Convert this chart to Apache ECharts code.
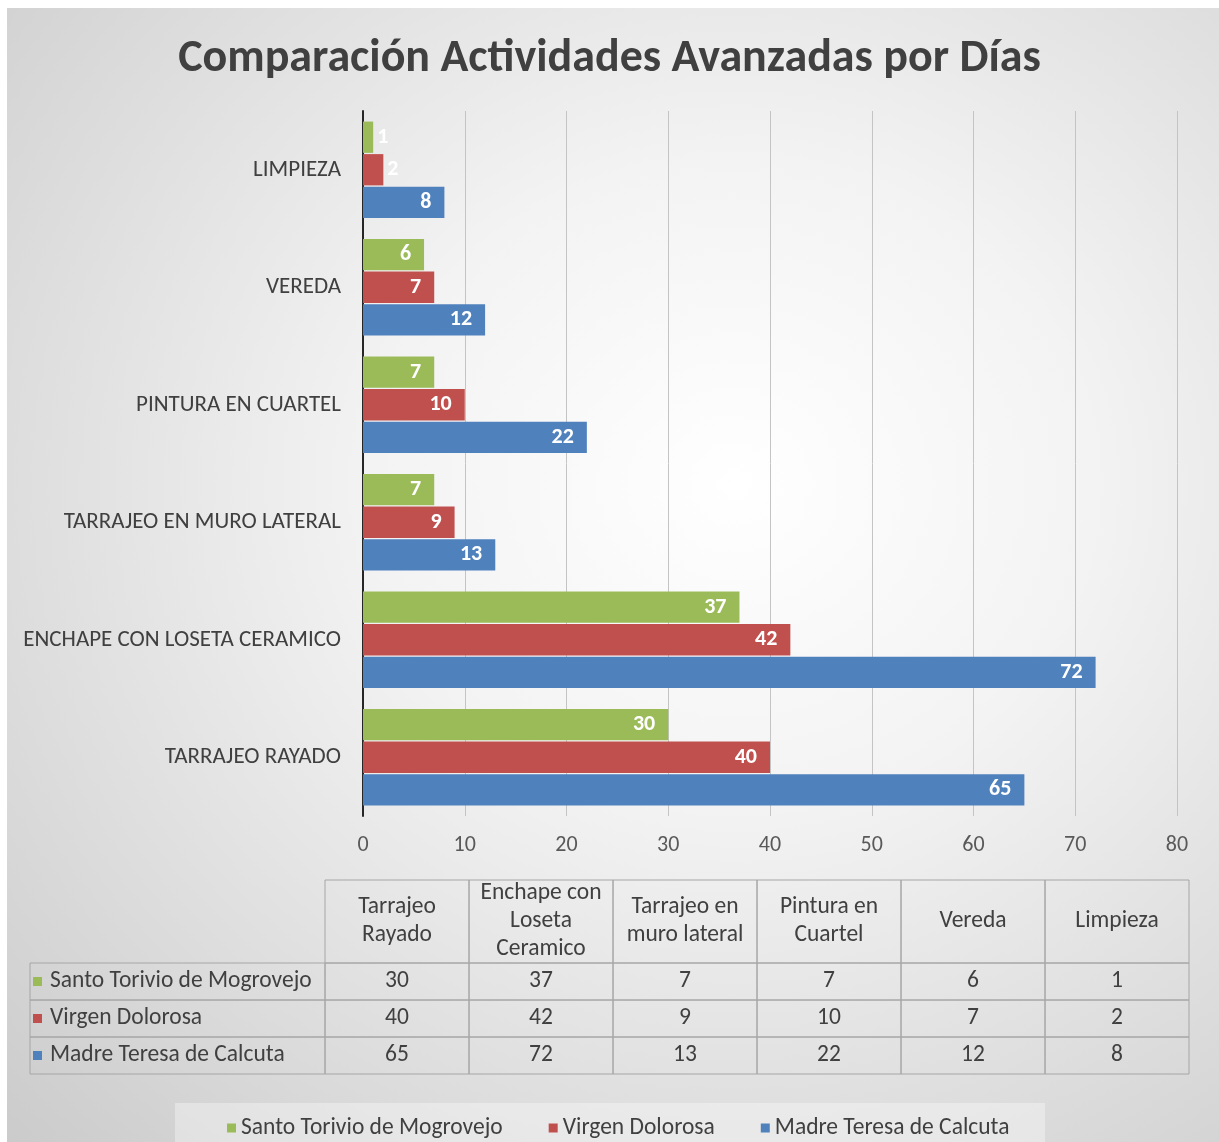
<!DOCTYPE html>
<html>
<head>
<meta charset="utf-8">
<script src="https://cdn.jsdelivr.net/npm/echarts@6/dist/echarts.min.js"></script>
<style>
  html, body { margin: 0; padding: 0; background: #fff; }
  #bg {
    position: absolute; left: 7px; top: 8px; right: 0; bottom: 0;
    background: radial-gradient(ellipse farthest-corner at 60% 42%, #ffffff 0%, #f3f3f3 35%, #cbcbcb 100%);
  }
  #chart { position: absolute; left: 0; top: 0; width: 1219px; height: 1142px; }
</style>
</head>
<body>
<div id="bg"></div>
<div id="chart"></div>
<script>
// datos (orden de la tabla de Excel)
const categories = ['TARRAJEO RAYADO', 'ENCHAPE CON LOSETA CERAMICO', 'TARRAJEO EN MURO LATERAL', 'PINTURA EN CUARTEL', 'VEREDA', 'LIMPIEZA'];
const tableHeaders = ['Tarrajeo\nRayado', 'Enchape con\nLoseta\nCeramico', 'Tarrajeo en\nmuro lateral', 'Pintura en\nCuartel', 'Vereda', 'Limpieza'];
const seriesNames = ['Santo Torivio de Mogrovejo', 'Virgen Dolorosa', 'Madre Teresa de Calcuta'];
const santo = [30, 37, 7, 7, 6, 1];
const virgen = [40, 42, 9, 10, 7, 2];
const madre = [65, 72, 13, 22, 12, 8];
const xTicks = [0, 10, 20, 30, 40, 50, 60, 70, 80];

const colors = ['#9BBB59', '#C0504D', '#4F81BD'];
const values = [santo, virgen, madre];
const FONT = "Carlito, 'Open Sans', sans-serif";
const textColor = '#404040';

const chart = echarts.init(document.getElementById('chart'));

// etiquetas pequeñas van fuera de la barra
function barData(arr) {
    return arr.map(v => v < 3 ? { value: v, label: { position: 'right', distance: 4 } } : v);
}

// tabla de datos debajo del grafico
const tLeft = 30, tHeadLeft = 325, colW = 144, tTop = 880, headH = 83, rowH = 37;
const lineColor = '#a6a6a6';
const cellFont = 23.5;
const graphic = [];
tableHeaders.forEach((h, i) => {
    const x = tHeadLeft + i * colW;
    graphic.push({ type: 'rect', shape: { x: x, y: tTop, width: colW, height: headH },
        style: { fill: 'none', stroke: lineColor, lineWidth: 1 } });
    graphic.push({ type: 'text', x: x + colW / 2, y: tTop + headH / 2,
        style: { text: h, align: 'center', verticalAlign: 'middle', fontSize: cellFont, fontFamily: FONT,
            lineHeight: 28, fill: textColor } });
});
seriesNames.forEach((name, r) => {
    const y = tTop + headH + r * rowH;
    graphic.push({ type: 'rect', shape: { x: tLeft, y: y, width: tHeadLeft - tLeft, height: rowH },
        style: { fill: 'none', stroke: lineColor, lineWidth: 1 } });
    graphic.push({ type: 'rect', shape: { x: tLeft + 3, y: y + rowH / 2 - 4.5, width: 9, height: 9 },
        style: { fill: colors[r] } });
    graphic.push({ type: 'text', x: tLeft + 20, y: y + rowH / 2,
        style: { text: name, align: 'left', verticalAlign: 'middle', fontSize: cellFont, fontFamily: FONT, fill: textColor } });
    values[r].forEach((v, c) => {
        const x = tHeadLeft + c * colW;
        graphic.push({ type: 'rect', shape: { x: x, y: y, width: colW, height: rowH },
            style: { fill: 'none', stroke: lineColor, lineWidth: 1 } });
        graphic.push({ type: 'text', x: x + colW / 2, y: y + rowH / 2,
            style: { text: String(v), align: 'center', verticalAlign: 'middle', fontSize: cellFont, fontFamily: FONT, fill: textColor } });
    });
});
// caja de la leyenda
graphic.push({ type: 'rect', shape: { x: 175, y: 1103, width: 870, height: 60 },
    style: { fill: 'rgba(255,255,255,0.35)' } });

const option = {
    backgroundColor: 'transparent',
    textStyle: { fontFamily: FONT },
    title: {
        text: 'Comparación Actividades Avanzadas por Días',
        left: 'center',
        top: 31,
        textStyle: { fontSize: 46, fontWeight: 'bold', color: textColor, fontFamily: FONT }
    },
    grid: { left: 363, right: 42, top: 111, bottom: 326 },
    legend: {
        data: seriesNames,
        left: 222,
        top: 1111,
        icon: 'rect',
        itemWidth: 9,
        itemHeight: 9,
        itemGap: 46,
        textStyle: { fontSize: 23.5, color: textColor, fontFamily: FONT }
    },
    xAxis: {
        type: 'value',
        min: 0,
        max: 80,
        interval: 10,
        axisLine: { show: false },
        axisTick: { show: false },
        axisLabel: { fontSize: 22, color: '#595959', margin: 18,
            formatter: v => xTicks.includes(v) ? String(v) : '' },
        splitLine: { show: true, lineStyle: { color: '#c4c4c4', width: 1 } }
    },
    yAxis: {
        type: 'category',
        data: categories,
        axisLine: { show: true, lineStyle: { color: '#262626', width: 2 } },
        axisTick: { show: false },
        axisLabel: { fontSize: 23, color: textColor, margin: 22 }
    },
    // el primer serie queda arriba dentro de cada grupo
    series: [0, 1, 2].map(i => ({
        name: seriesNames[i],
        type: 'bar',
        data: barData(values[i]),
        barCategoryGap: '18%',
        barGap: '4%',
        itemStyle: { color: colors[i] },
        label: { show: true, position: 'insideRight', distance: 13, color: '#fff',
            fontSize: 22, fontWeight: 'bold', fontFamily: FONT }
    })),
    graphic: graphic
};

chart.setOption(option);
</script>
</body>
</html>
